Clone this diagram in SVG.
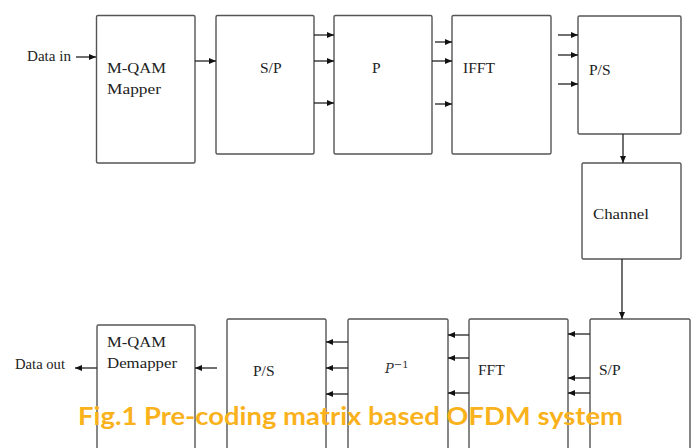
<svg xmlns="http://www.w3.org/2000/svg" width="691" height="448" viewBox="0 0 691 448">
<defs>
<marker id="ah" markerWidth="8" markerHeight="8" refX="7" refY="4" orient="auto" markerUnits="userSpaceOnUse">
<path d="M0,1 L7,4 L0,7 Z" fill="#111"/>
</marker>
<style>
.box{fill:#fff;stroke:#555;stroke-width:1.4}
.lbl{font-family:"Liberation Serif",serif;font-size:15.5px;fill:#222}
.sm{font-family:"Liberation Serif",serif;font-size:14px;fill:#222}
.c line{stroke:#222;stroke-width:1.3;marker-end:url(#ah)}
.cap{font-family:Lato,"Open Sans",sans-serif;font-weight:bold;font-size:25px;fill:#F9B21B}
</style>
</defs>
<rect width="691" height="448" fill="#fff"/>
<g id="mapper"><rect class="box" x="96.5" y="15.5" width="98.5" height="147.5" rx="1.5"/><text class="lbl" x="107" y="73" textLength="59" lengthAdjust="spacingAndGlyphs">M-QAM</text><text class="lbl" x="107" y="94" textLength="54" lengthAdjust="spacingAndGlyphs">Mapper</text></g>
<g id="sp1"><rect class="box" x="216" y="15.5" width="98" height="138.5" rx="1.5"/><text class="lbl" x="260" y="73">S/P</text></g>
<g id="p"><rect class="box" x="334" y="15.5" width="98" height="138.5" rx="1.5"/><text class="lbl" x="372" y="73">P</text></g>
<g id="ifft"><rect class="box" x="452" y="15.5" width="99" height="138.5" rx="1.5"/><text class="lbl" x="463" y="73">IFFT</text></g>
<g id="ps1"><rect class="box" x="578" y="16" width="103" height="118" rx="1.5"/><text class="lbl" x="589" y="75">P/S</text></g>
<g id="channel"><rect class="box" x="582" y="163" width="99" height="96" rx="1.5"/><text class="lbl" x="593" y="219" textLength="56" lengthAdjust="spacingAndGlyphs">Channel</text></g>
<g id="sp2"><rect class="box" x="590" y="319" width="100" height="140" rx="1.5"/><text class="lbl" x="599" y="375">S/P</text></g>
<g id="fft"><rect class="box" x="469" y="319" width="99" height="140" rx="1.5"/><text class="lbl" x="478" y="375">FFT</text></g>
<g id="pinv"><rect class="box" x="348" y="319" width="100" height="140" rx="1.5"/><text x="385" y="373" style="font-family:'DejaVu Serif',serif;font-style:italic;font-size:13px;fill:#333">P<tspan dy="-5" font-size="10" font-style="normal">−1</tspan></text></g>
<g id="ps2"><rect class="box" x="227" y="319" width="99" height="140" rx="1.5"/><text class="lbl" x="253" y="376">P/S</text></g>
<g id="demapper"><rect class="box" x="97" y="325" width="98" height="134" rx="1.5"/><text class="lbl" x="107" y="347" textLength="59" lengthAdjust="spacingAndGlyphs">M-QAM</text><text class="lbl" x="107" y="368" textLength="70" lengthAdjust="spacingAndGlyphs">Demapper</text></g>
<text class="sm" x="27" y="61" textLength="44" lengthAdjust="spacingAndGlyphs">Data in</text>
<text class="sm" x="15" y="369" textLength="50" lengthAdjust="spacingAndGlyphs">Data out</text>
<g class="c" id="connectors">
<line x1="76" y1="57" x2="96" y2="57"/>
<line x1="195" y1="61" x2="216" y2="61"/>
<line x1="314" y1="35" x2="334" y2="35"/>
<line x1="314" y1="61" x2="334" y2="61"/>
<line x1="314" y1="103" x2="334" y2="103"/>
<line x1="435" y1="42" x2="452" y2="42"/>
<line x1="432" y1="61" x2="452" y2="61"/>
<line x1="435" y1="104" x2="452" y2="104"/>
<line x1="558" y1="35" x2="578" y2="35"/>
<line x1="558" y1="55" x2="578" y2="55"/>
<line x1="558" y1="84" x2="578" y2="84"/>
<line x1="623" y1="134" x2="623" y2="163"/>
<line x1="622" y1="259" x2="622" y2="319"/>
<line x1="590" y1="334" x2="568" y2="334"/>
<line x1="590" y1="378" x2="568" y2="378"/>
<line x1="590" y1="393" x2="568" y2="393"/>
<line x1="469" y1="335" x2="448" y2="335"/>
<line x1="469" y1="358" x2="448" y2="358"/>
<line x1="469" y1="393" x2="448" y2="393"/>
<line x1="348" y1="342" x2="326" y2="342"/>
<line x1="348" y1="368" x2="326" y2="368"/>
<line x1="348" y1="394" x2="326" y2="394"/>
<line x1="217" y1="368" x2="195" y2="368"/>
<line x1="97" y1="368" x2="75" y2="368"/>
</g>
<text class="cap" x="78" y="425" textLength="545" lengthAdjust="spacingAndGlyphs">Fig.1 Pre-coding matrix based OFDM system</text>
</svg>
